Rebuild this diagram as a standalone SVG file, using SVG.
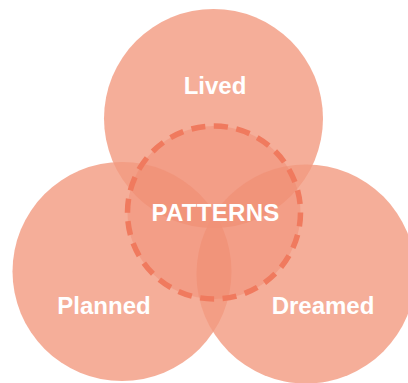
<svg xmlns="http://www.w3.org/2000/svg" width="408" height="383" viewBox="0 0 408 383">
  <style>
    .set { fill: #F29A80; fill-opacity: 0.8; }
    .core { fill: #F08468; fill-opacity: 0.38; stroke: #F07A5E; stroke-width: 5.5; stroke-dasharray: 14 8.6; }
    .lbl { font-family: "Liberation Sans", Arial, sans-serif; font-weight: bold; font-size: 24px; fill: #FFFFFF; text-anchor: middle; }
  </style>
  <rect width="408" height="383" fill="#FFFFFF"/>
  <g id="lived">
    <circle class="set" cx="213.5" cy="118.5" r="109.5"/>
  </g>
  <g id="planned">
    <circle class="set" cx="122" cy="271.5" r="109.5"/>
  </g>
  <g id="dreamed">
    <circle class="set" cx="306" cy="274" r="109.5"/>
  </g>
  <g id="patterns">
    <circle class="core" cx="214" cy="212.5" r="86.5" transform="rotate(-90 214 212.5)"/>
  </g>
  <g id="connectors"></g>
  <g id="labels">
    <text class="lbl" x="215" y="93.5">Lived</text>
    <text class="lbl" x="215.5" y="221" font-size="25.5" letter-spacing="0.3">PATTERNS</text>
    <text class="lbl" x="104" y="313.5">Planned</text>
    <text class="lbl" x="323" y="313.5">Dreamed</text>
  </g>
</svg>
